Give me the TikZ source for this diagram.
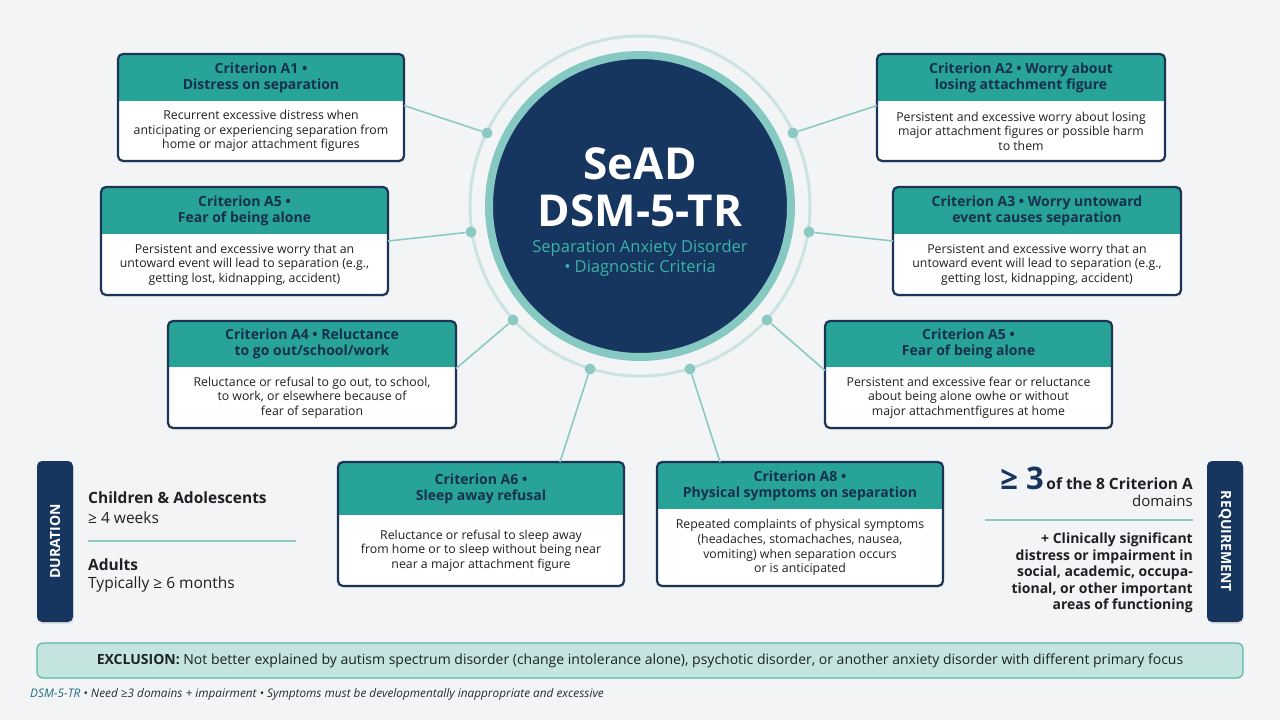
\documentclass[tikz,border=0pt]{standalone}
\usepackage{fontspec}
\setmainfont{Open Sans}
\usetikzlibrary{shadows}
\definecolor{bg}{HTML}{F3F4F6}
\definecolor{navy}{HTML}{163660}
\definecolor{cardline}{HTML}{1C3556}
\definecolor{hdr}{HTML}{27A397}
\definecolor{ringteal}{HTML}{86C8C2}
\definecolor{ringlight}{HTML}{CCE4E1}
\definecolor{conn}{HTML}{8DC9C3}
\definecolor{subteal}{HTML}{3BB2A7}
\definecolor{hdrtext}{HTML}{17304D}
\definecolor{bodytext}{HTML}{1E2024}
\definecolor{exfill}{HTML}{C3E4DF}
\definecolor{exline}{HTML}{5DB4AB}
\definecolor{foottext}{HTML}{262B33}
\definecolor{footlead}{HTML}{1D6B88}
\tikzset{
  cardshape/.style={rectangle, rounded corners=5pt, fill=white, outer sep=0pt, inner sep=0pt,
    drop shadow={opacity=0.12, shadow xshift=1pt, shadow yshift=-2pt}},
  hdrtxt/.style={font=\fontsize{14}{16}\selectfont\bfseries, text=hdrtext, align=center, inner sep=0pt},
  bodytxt/.style={font=\fontsize{12.3}{14.6}\selectfont, text=bodytext, align=center, inner sep=0pt},
  connline/.style={draw=conn, line width=1.6pt},
  dotnode/.style={circle, fill=conn, minimum size=11pt, inner sep=0pt},
  navybar/.style={rectangle, rounded corners=5pt, fill=navy, text=white, inner sep=0pt,
    font=\fontsize{14}{14}\selectfont\bfseries, drop shadow={opacity=0.15, shadow xshift=1pt, shadow yshift=-2pt}},
  sepline/.style={draw=conn, line width=1.5pt},
  exclbox/.style={rectangle, rounded corners=6pt, fill=exfill, draw=exline, line width=1.2pt, inner sep=0pt,
    font=\fontsize{14}{17}\selectfont, text=bodytext},
}
\newcommand{\crit}[8]{%
  \node[cardshape, minimum width={#4pt-#2pt}, minimum height={#5pt-#3pt}] (#1) at ({(#2+#4)/2},{(#3+#5)/2}) {};
  \begin{scope}
    \clip[rounded corners=5pt] (#1.north west) rectangle (#1.south east);
    \fill[hdr] (#1.north west) rectangle (#4,#6);
  \end{scope}
  \draw[cardline, line width=2.2pt, rounded corners=5pt] (#1.north west) rectangle (#1.south east);
  \node[hdrtxt] (#1-h) at ({(#2+#4)/2},{(#3+#6)/2}) {#7};
  \node[bodytxt] (#1-b) at ({(#2+#4)/2},{(#6+#5)/2}) {#8};
}
\begin{document}
\begin{tikzpicture}[x=1pt, y=-1pt]
\useasboundingbox (0,0) rectangle (1280,720);
\fill[bg] (0,0) rectangle (1280,720);

% hub
\draw[ringlight, line width=3pt] (640,206) circle[radius=170];
\node[circle, fill=navy, draw=ringteal, line width=8pt, minimum size=302pt, inner sep=0pt] (hub) at (640,206) {};
\node[font=\fontsize{44}{44}\selectfont\bfseries, text=white, anchor=base, inner sep=0pt] (t1) at (640,179) {SeAD};
\node[font=\fontsize{44}{44}\selectfont\bfseries, text=white, anchor=base, inner sep=0pt] (t2) at (640,226) {DSM-5-TR};
\node[font=\fontsize{16.5}{20}\selectfont, text=subteal, align=center, inner sep=0pt] (t3) at (640,258) {Separation Anxiety Disorder\\• Diagnostic Criteria};

% cards
\crit{a1}{118}{54}{404}{161}{101}{Criterion A1 •\\Distress on separation}{Recurrent excessive distress when\\anticipating or experiencing separation from\\home or major attachment figures}
\crit{a2}{877}{54}{1165}{161}{101}{Criterion A2 • Worry about\\losing attachment figure}{Persistent and excessive worry about losing\\major attachment figures or possible harm\\to them}
\crit{a5l}{101}{187}{388}{295}{234}{Criterion A5 •\\Fear of being alone}{Persistent and excessive worry that an\\untoward event will lead to separation (e.g.,\\getting lost, kidnapping, accident)}
\crit{a3}{893}{187}{1181}{295}{234}{Criterion A3 • Worry untoward\\event causes separation}{Persistent and excessive worry that an\\untoward event will lead to separation (e.g.,\\getting lost, kidnapping, accident)}
\crit{a4}{168}{321}{456}{428}{367}{Criterion A4 • Reluctance\\to go out/school/work}{Reluctance or refusal to go out, to school,\\to work, or elsewhere because of\\fear of separation}
\crit{a5r}{825}{321}{1112}{428}{367}{Criterion A5 •\\Fear of being alone}{Persistent and excessive fear or reluctance\\about being alone owhe or without\\major attachmentfigures at home}
\crit{a6}{338}{462}{624}{586}{515}{Criterion A6 •\\Sleep away refusal}{Reluctance or refusal to sleep away\\from home or to sleep without being near\\near a major attachment figure}
\crit{a8}{657}{462}{943}{586}{509}{Criterion A8 •\\Physical symptoms on separation}{Repeated complaints of physical symptoms\\(headaches, stomachaches, nausea,\\vomiting) when separation occurs\\or is anticipated}

% dots
\node[dotnode] (d1) at (487,133) {};
\node[dotnode] (d2) at (793,133) {};
\node[dotnode] (d3) at (471,232) {};
\node[dotnode] (d4) at (809,232) {};
\node[dotnode] (d5) at (513,320) {};
\node[dotnode] (d6) at (767,320) {};
\node[dotnode] (d7) at (590,369) {};
\node[dotnode] (d8) at (690,369) {};

% connectors
\draw[connline] ([yshift=2pt]a1.east) -- (d1);
\draw[connline] ([yshift=2pt]a2.west) -- (d2);
\draw[connline] (a5l.east) -- (d3);
\draw[connline] (a3.west) -- (d4);
\draw[connline] ([yshift=6pt]a4.east) -- (d5);
\draw[connline] ([yshift=4pt]a5r.west) -- (d6);
\draw[connline] ([xshift=79pt]a6.north) -- (d7);
\draw[connline] ([xshift=-80pt]a8.north) -- (d8);

% duration
\node[navybar, rotate=90, minimum width=161pt, minimum height=36pt] (dur) at (55,541.5) {DURATION};
\node[anchor=west, inner sep=0pt, font=\fontsize{15.5}{18}\selectfont\bfseries, text=bodytext] (ca) at (88,498) {Children \& Adolescents};
\node[anchor=west, inner sep=0pt, font=\fontsize{15.5}{18}\selectfont, text=bodytext] (caw) at (88,518) {≥ 4 weeks};
\coordinate (dl1) at (88,541);
\coordinate (dl2) at (296,541);
\draw[sepline] (dl1) -- (dl2);
\node[anchor=west, inner sep=0pt, font=\fontsize{15.5}{18}\selectfont\bfseries, text=bodytext] (ad) at (88,565) {Adults};
\node[anchor=west, inner sep=0pt, font=\fontsize{15.5}{18}\selectfont, text=bodytext] (adw) at (88,584) {Typically ≥ 6 months};

% requirement
\node[navybar, rotate=-90, minimum width=161pt, minimum height=36pt] (req) at (1225,541.5) {REQUIREMENT};
\node[anchor=base east, inner sep=0pt, text=bodytext] (r1) at (1193,489) {{\fontsize{31}{31}\selectfont\bfseries\color{navy}≥ 3} {\fontsize{15.5}{17}\selectfont\bfseries of the 8 Criterion A}};
\node[anchor=base east, inner sep=0pt, font=\fontsize{15}{17}\selectfont, text=bodytext] (r2) at (1193,506) {domains};
\coordinate (rl1) at (985,520);
\coordinate (rl2) at (1193,520);
\draw[sepline] (rl1) -- (rl2);
\node[anchor=east, align=right, inner sep=0pt, font=\fontsize{14}{16.5}\selectfont\bfseries, text=bodytext] (r3) at (1193,573) {+ Clinically significant\\distress or impairment in\\social, academic, occupa-\\tional, or other important\\areas of functioning};

% exclusion
\node[exclbox, minimum width=1206pt, minimum height=35pt] (excl) at (640,660.5) {\textbf{EXCLUSION:} Not better explained by autism spectrum disorder (change intolerance alone), psychotic disorder, or another anxiety disorder with different primary focus};

% footer
\node[anchor=west, inner sep=0pt, font=\fontsize{11.8}{13}\selectfont\itshape, text=foottext] (foot) at (30,694) {\textcolor{footlead}{DSM-5-TR} • Need ≥3 domains + impairment • Symptoms must be developmentally inappropriate and excessive};
\end{tikzpicture}
\end{document}
